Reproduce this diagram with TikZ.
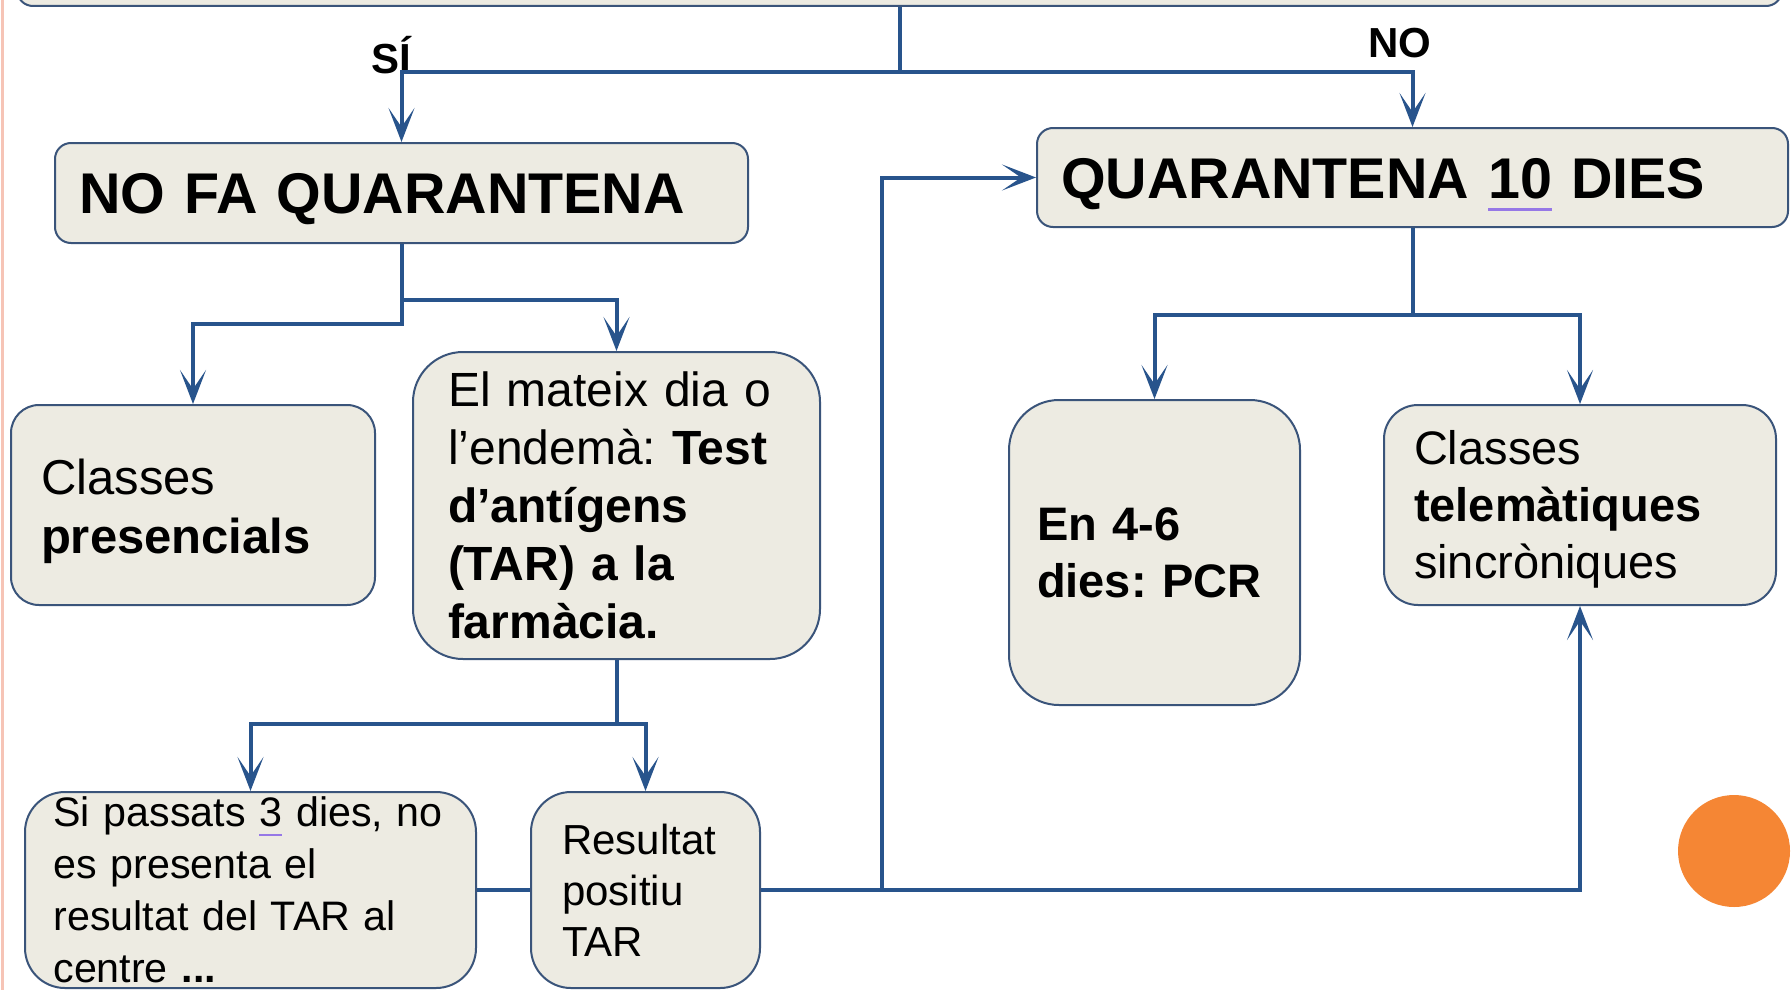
\documentclass[tikz,border=0pt]{standalone}
\usepackage{fontspec}
\setmainfont{Liberation Sans}
\usetikzlibrary{arrows.meta}
\frenchspacing
\definecolor{boxfill}{RGB}{237,235,226}
\definecolor{boxline}{RGB}{58,84,122}
\definecolor{linkblue}{RGB}{40,84,140}
\definecolor{slidepink}{RGB}{246,196,182}
\definecolor{dotorange}{RGB}{245,134,52}
\definecolor{spell}{RGB}{150,120,230}
\newcommand{\spellmark}[1]{\setbox0\hbox{#1}\rlap{\color{spell}\rule[-0.22em]{\wd0}{0.05em}}\box0\relax}
\tikzset{
  box/.style={draw=boxline, line width=1pt, fill=boxfill, align=left, inner ysep=0pt, anchor=center},
  titlebox/.style={box, rounded corners=8pt, inner xsep=12pt, text height=20.6pt, text depth=0pt, font=\frenchspacing\bfseries\fontsize{28.7}{34}\selectfont},
  bodybox/.style={box, font=\frenchspacing\fontsize{24}{29}\selectfont},
  smallbox/.style={box, rounded corners=20pt, font=\frenchspacing\fontsize{21}{26}\selectfont},
  link/.style={draw=linkblue, line width=2pt},
  arr/.style={link, -{Stealth[length=17pt,width=13pt,inset=9.5pt]}},
  lbl/.style={font=\bfseries\fontsize{21}{24}\selectfont, inner sep=0pt}
}
\begin{document}
\begin{tikzpicture}[x=0.5pt, y=-0.5pt]
\useasboundingbox (0,0) rectangle (1791,990);
\clip (0,0) rectangle (1791,990);
\fill[white] (0,0) rectangle (1791,990);
\draw[slidepink, line width=1.5pt] (2.5,0) -- (2.5,990);

% boxes
\node[box, rounded corners=8pt, minimum width=882.5pt, minimum height=33pt] (top) at (899.5,-27) {};
\node[titlebox, minimum width=346.5pt, minimum height=50pt, text width=322.5pt] (nofa) at (401.5,193) {NO FA QUARANTENA};
\node[titlebox, minimum width=375.5pt, minimum height=49.5pt, text width=351.5pt] (quar) at (1412.5,177.5) {QUARANTENA \spellmark{10} DIES};

\node[bodybox, rounded corners=14pt, minimum width=182pt, minimum height=100pt, inner xsep=15pt, text width=152pt, text height=18.5pt, text depth=29.5pt, font=\frenchspacing\fontsize{24.5}{29.5}\selectfont] (pres) at (193,505) {Classes\\\textbf{presencials}};
\node[bodybox, rounded corners=25pt, minimum width=203.5pt, minimum height=153.5pt, inner xsep=17.5pt, text width=168.5pt] (mat) at (616.5,505.5) {El mateix dia o\\l’endemà: \textbf{Test}\\\textbf{d’antígens}\\\textbf{(TAR) a la}\\\textbf{farmàcia.}};
\node[bodybox, rounded corners=25pt, minimum width=145.5pt, minimum height=152.5pt, inner xsep=14pt, text width=117.5pt, text height=16.9pt, text depth=28.5pt, font=\frenchspacing\bfseries\fontsize{23.5}{28.5}\selectfont] (pcr) at (1154.5,552.5) {En 4-6\\dies: PCR};
\node[bodybox, rounded corners=17pt, minimum width=196pt, minimum height=100pt, inner xsep=15pt, text width=166pt, text height=16.9pt, text depth=57pt, font=\frenchspacing\fontsize{23.5}{28.5}\selectfont] (tele) at (1580,505) {Classes\\\textbf{telemàtiques}\\sincròniques};

\node[smallbox, minimum width=225.5pt, minimum height=98pt] (si) at (250.5,890) {};
\node[align=left, inner sep=0pt, text width=205pt, anchor=west, font=\frenchspacing\fontsize{20.6}{26}\selectfont] (sitext) at ([xshift=14.5pt]si.west) {Si passats \spellmark{3} dies, no\\es presenta el\\resultat del TAR al\\centre \textbf{...}};
\node[smallbox, minimum width=114.5pt, minimum height=98pt, inner xsep=15.5pt, text width=83.5pt, font=\frenchspacing\fontsize{21}{25.5}\selectfont] (res) at (645.5,890) {Resultat\\positiu\\TAR};

% labels
\node[lbl] (silbl) at (391,55) {SÍ};
\node[lbl] (nolbl) at (1400,43) {NO};

% connectors
\draw[arr] (top.south) -- ++(0,65) -| (nofa.north);
\draw[arr] (top.south) -- ++(0,65) -| (quar.north);
\draw[arr] (nofa.south) -- ++(0,80) -| (pres.north);
\draw[arr] (nofa.south) -- ++(0,56) -| (mat.north);
\draw[arr] (quar.south) -- ++(0,87) -| (pcr.north);
\draw[arr] (quar.south) -- ++(0,87) -| (tele.north);
\draw[arr] (mat.south) -- ++(0,64) -| (si.north);
\draw[arr] (mat.south) -- ++(0,64) -| (res.north);
\draw[link] (si.east) -- (res.west);
\draw[arr] (res.east) -| (tele.south);
\coordinate (split) at (882,890);
\draw[arr] (split) |- (quar.west);

% orange dot
\fill[dotorange] (1734,851) circle (28pt);
\end{tikzpicture}
\end{document}
